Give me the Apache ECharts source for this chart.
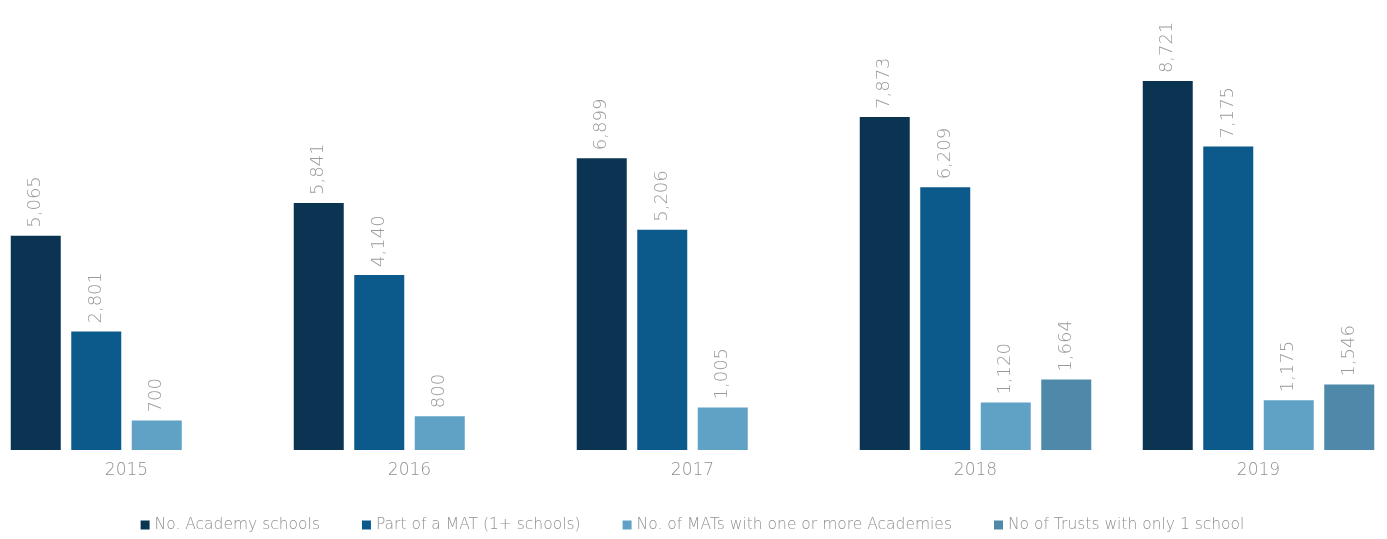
<!DOCTYPE html>
<html>
<head>
<meta charset="utf-8">
<title>Academies and Multi-Academy Trusts, 2015–2019</title>
<script src="https://cdn.jsdelivr.net/npm/echarts@6/dist/echarts.min.js"></script>
<style>
  html, body { margin: 0; padding: 0; background: #ffffff; overflow: hidden; width: 1387px; height: 539px; }
  /* plot spans slightly past both page edges so the outer bars sit near the borders */
  #chart { position: absolute; left: -15px; top: 0; width: 1415px; height: 539px; }
</style>
</head>
<body>
<div id="chart"></div>
<script>
// Years on the category axis
var years = ['2015', '2016', '2017', '2018', '2019'];

// Series names (legend)
var seriesNames = [
  'No. Academy schools',
  'Part of a MAT (1+ schools)',
  'No. of MATs with one or more Academies',
  'No of Trusts with only 1 school'
];

// Values per year
var academySchools = [5065, 5841, 6899, 7873, 8721];
var partOfMat      = [2801, 4140, 5206, 6209, 7175];
var matsWithAcad   = [700, 800, 1005, 1120, 1175];
var singleTrusts   = [null, null, null, 1664, 1546];

var seriesData = [academySchools, partOfMat, matsWithAcad, singleTrusts];
var colors = ['#0a3452', '#0c5a8b', '#5fa2c6', '#4f89a9'];

function withCommas(v) {
  return String(v).replace(/\B(?=(\d{3})+(?!\d))/g, ',');
}

var chart = echarts.init(document.getElementById('chart'), null, { renderer: 'canvas' });

var series = seriesNames.map(function (name, i) {
  return {
    name: name,
    type: 'bar',
    data: seriesData[i],
    barWidth: 50,
    barGap: '21%',
    itemStyle: { color: colors[i] },
    label: {
      show: true,
      position: 'top',
      rotate: 90,
      align: 'left',
      verticalAlign: 'middle',
      distance: 8,
      color: '#9a9a9a',
      fontFamily: 'DejaVu Sans',
      fontWeight: 200,
      fontSize: 18,
      formatter: function (p) { return p.value == null ? '' : withCommas(p.value); }
    }
  };
});

chart.setOption({
  animation: false,
  backgroundColor: '#ffffff',
  color: colors,
  legend: {
    data: seriesNames,
    left: 'center',
    top: 512,
    itemWidth: 9,
    itemHeight: 9,
    itemGap: 42,
    icon: 'rect',
    textStyle: {
      color: '#8f8f8f',
      fontFamily: 'DejaVu Sans',
      fontWeight: 200,
      fontSize: 15.5
    }
  },
  grid: { left: 0, right: 0, top: 27, bottom: 89, containLabel: false },
  xAxis: {
    type: 'category',
    data: years,
    axisLine: { show: false },
    axisTick: { show: false },
    axisLabel: {
      color: '#8f8f8f',
      fontFamily: 'DejaVu Sans',
      fontWeight: 200,
      fontSize: 17,
      margin: 12
    }
  },
  yAxis: {
    type: 'value',
    min: 0,
    max: 10000,
    show: false,
    splitLine: { show: false }
  },
  series: series
});
</script>
</body>
</html>
